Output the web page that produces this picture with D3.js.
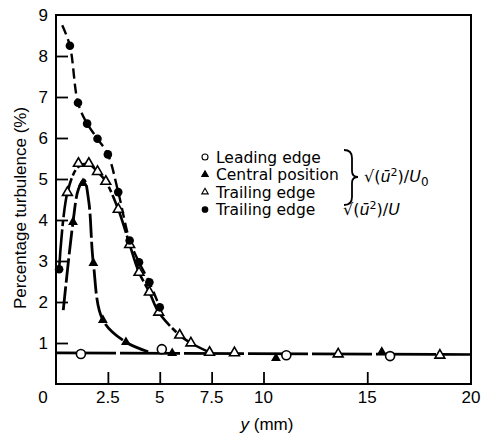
<!DOCTYPE html>
<html>
<head>
<meta charset="utf-8">
<script src="https://cdn.jsdelivr.net/npm/d3@7"></script>
<style>
  body { margin: 0; background: #fff; }
  svg text { font-family: "Liberation Sans", "DejaVu Sans", sans-serif; fill: #000; }
</style>
</head>
<body>
<script>
// values: [y (mm), turbulence (%)]
var leadingEdge = [[1.2, 0.73], [5.1, 0.85], [11.1, 0.7], [16.1, 0.68]];
var centralPos = [[0.82, 3.95], [1.3, 4.9], [1.8, 2.95], [2.26, 1.56], [3.37, 1.02],
                  [5.6, 0.75], [10.6, 0.63], [15.7, 0.78]];
var centralCurve = [[0.35, 1.8], [0.82, 3.95], [1.08, 4.75], [1.35, 4.98], [1.58, 4.45],
                    [1.8, 2.95], [2.26, 1.56], [3.37, 1.02], [4.6, 0.76]];
var trailingEdge = [[0.55, 4.67], [1.08, 5.38], [1.58, 5.38], [2.0, 5.18], [2.4, 4.94],
                    [3.0, 4.26], [3.55, 3.4], [4.0, 2.72], [4.5, 2.24], [4.95, 1.75],
                    [5.96, 1.19], [6.5, 1.0], [7.4, 0.77], [8.6, 0.76], [13.6, 0.73], [18.5, 0.7]];
var trailingCurve = [[0.15, 2.8], [0.55, 4.67], [1.08, 5.3], [1.58, 5.36], [2.0, 5.18],
                     [2.4, 4.94], [3.0, 4.26], [3.55, 3.4], [4.0, 2.72], [4.5, 2.24],
                     [4.95, 1.75], [5.96, 1.19], [6.5, 1.0], [7.4, 0.77]];
var trailingU = [[0.15, 2.8], [0.67, 8.25], [1.06, 6.86], [1.5, 6.35], [2.0, 5.98], [2.5, 5.6],
                 [3.0, 4.68], [3.55, 3.5], [4.0, 2.97], [4.5, 2.48], [5.0, 1.87]];
var trailingUCurve = [[0.3, 8.75], [0.67, 8.25], [1.06, 6.86], [1.5, 6.35], [2.0, 5.98],
                      [2.5, 5.6], [3.0, 4.68], [3.55, 3.5], [4.0, 2.97], [4.5, 2.48], [5.0, 1.87]];
var baseline = [[0, 0.76], [20, 0.72]];

var xTicks = [0, 2.5, 5, 7.5, 10, 15, 20];
var yTicks = [1, 2, 3, 4, 5, 6, 7, 8, 9];

var width = 481, height = 434;
var svg = d3.select("body").append("svg")
    .attr("width", width)
    .attr("height", height);

var x = d3.scaleLinear().domain([0, 20]).range([56, 471]);
var y = d3.scaleLinear().domain([0, 9]).range([384, 15]);

// frame
svg.append("rect")
    .attr("x", x(0)).attr("y", y(9))
    .attr("width", x(20) - x(0)).attr("height", y(0) - y(9))
    .attr("fill", "none").attr("stroke", "#000").attr("stroke-width", 2);

// inward ticks
svg.append("g")
    .attr("transform", "translate(0," + y(0) + ")")
    .call(d3.axisTop(x).tickValues(xTicks.slice(1, -1)).tickSize(12).tickFormat(""))
    .call(function(g) { g.select(".domain").remove(); })
    .selectAll("line").attr("stroke-width", 1.8);

svg.append("g")
    .attr("transform", "translate(" + x(0) + ",0)")
    .call(d3.axisRight(y).tickValues(yTicks.slice(0, -1)).tickSize(12).tickFormat(""))
    .call(function(g) { g.select(".domain").remove(); })
    .selectAll("line").attr("stroke-width", 1.8);

// tick labels
svg.append("g").selectAll("text")
    .data(xTicks).enter().append("text")
    .attr("x", function(d) { return d === 0 ? x(d) - 13 : x(d); })
    .attr("y", 403)
    .attr("text-anchor", "middle")
    .style("font-size", "17px")
    .text(function(d) { return d; });

svg.append("g").selectAll("text")
    .data(yTicks).enter().append("text")
    .attr("x", 48)
    .attr("y", function(d) { return y(d) + 6; })
    .attr("text-anchor", "end")
    .style("font-size", "17px")
    .text(function(d) { return d; });

// axis titles
svg.append("text")
    .attr("transform", "translate(26," + 208 + ") rotate(-90)")
    .attr("text-anchor", "middle")
    .style("font-size", "17px")
    .text("Percentage turbulence (%)");

var xt = svg.append("text")
    .attr("x", 267).attr("y", 430)
    .attr("text-anchor", "middle")
    .style("font-size", "17px");
xt.append("tspan").style("font-style", "italic").text("y");
xt.append("tspan").text("  (mm)");

// lines
var line = d3.line()
    .x(function(d) { return x(d[0]); })
    .y(function(d) { return y(d[1]); })
    .curve(d3.curveCatmullRom.alpha(0.5));

svg.append("path").datum(baseline)
    .attr("d", line).attr("fill", "none").attr("stroke", "#000")
    .attr("stroke-width", 2.6).attr("stroke-dasharray", "60,4");

svg.append("path").datum(centralCurve)
    .attr("d", line).attr("fill", "none").attr("stroke", "#000")
    .attr("stroke-width", 2.8).attr("stroke-dasharray", "24,4");

svg.append("path").datum(trailingCurve)
    .attr("d", line).attr("fill", "none").attr("stroke", "#000")
    .attr("stroke-width", 2.6).attr("stroke-dasharray", "40,3,6,3");

svg.append("path").datum(trailingUCurve)
    .attr("d", line).attr("fill", "none").attr("stroke", "#000")
    .attr("stroke-width", 2.4).attr("stroke-dasharray", "10,5");

// markers
var tri = d3.symbol().type(d3.symbolTriangle).size(42);

svg.append("g").selectAll("path")
    .data(trailingEdge).enter().append("path")
    .attr("d", tri)
    .attr("transform", function(d) { return "translate(" + x(d[0]) + "," + y(d[1]) + ")"; })
    .attr("fill", "#fff").attr("stroke", "#000").attr("stroke-width", 1.6);

svg.append("g").selectAll("path")
    .data(centralPos).enter().append("path")
    .attr("d", tri)
    .attr("transform", function(d) { return "translate(" + x(d[0]) + "," + y(d[1]) + ")"; })
    .attr("fill", "#000");

svg.append("g").selectAll("circle")
    .data(leadingEdge).enter().append("circle")
    .attr("cx", function(d) { return x(d[0]); })
    .attr("cy", function(d) { return y(d[1]); })
    .attr("r", 4.5)
    .attr("fill", "#fff").attr("stroke", "#000").attr("stroke-width", 1.6);

svg.append("g").selectAll("circle")
    .data(trailingU).enter().append("circle")
    .attr("cx", function(d) { return x(d[0]); })
    .attr("cy", function(d) { return y(d[1]); })
    .attr("r", 4.3)
    .attr("fill", "#000");

// legend
var legendItems = [
  {label: "Leading edge", kind: "circle", fill: "#fff"},
  {label: "Central position", kind: "tri", fill: "#000"},
  {label: "Trailing edge", kind: "tri", fill: "#fff"},
  {label: "Trailing edge", kind: "circle", fill: "#000"}
];
var legend = svg.append("g");
legendItems.forEach(function(item, i) {
  var ly = 157 + i * 17.5;
  if (item.kind === "circle") {
    legend.append("circle").attr("cx", 205).attr("cy", ly)
      .attr("r", item.fill === "#000" ? 2.8 : 3)
      .attr("fill", item.fill).attr("stroke", "#000").attr("stroke-width", 1.1);
  } else {
    legend.append("path").attr("d", d3.symbol().type(d3.symbolTriangle).size(18))
      .attr("transform", "translate(205," + ly + ")")
      .attr("fill", item.fill).attr("stroke", "#000").attr("stroke-width", 1.1);
  }
  legend.append("text").attr("x", 216).attr("y", ly + 5.5)
    .style("font-family", "'DejaVu Sans', sans-serif")
    .style("font-size", "15.5px").text(item.label);
});

// brace for first three entries
legend.append("path")
    .attr("d", "M344,150 Q352,150 352,158 L352,171 Q352,177 358,177 Q352,177 352,183 L352,197 Q352,205 344,205")
    .attr("fill", "none").attr("stroke", "#000").attr("stroke-width", 1.8);

function rmsLabel(g, xx, yy, sub) {
  var t = g.append("text").attr("x", xx).attr("y", yy)
    .style("font-family", "'DejaVu Sans', sans-serif").style("font-size", "16px");
  t.append("tspan").text("\u221A(");
  t.append("tspan").style("font-style", "italic").text("\u016B");
  t.append("tspan").attr("dy", -6).style("font-size", "11px").text("2");
  t.append("tspan").attr("dy", 6).text(")/");
  t.append("tspan").style("font-style", "italic").text("U");
  if (sub) t.append("tspan").attr("dy", 4).style("font-size", "12px").text(sub);
}
rmsLabel(legend, 364, 182, "0");
rmsLabel(legend, 343, 215, null);
</script>
</body>
</html>
